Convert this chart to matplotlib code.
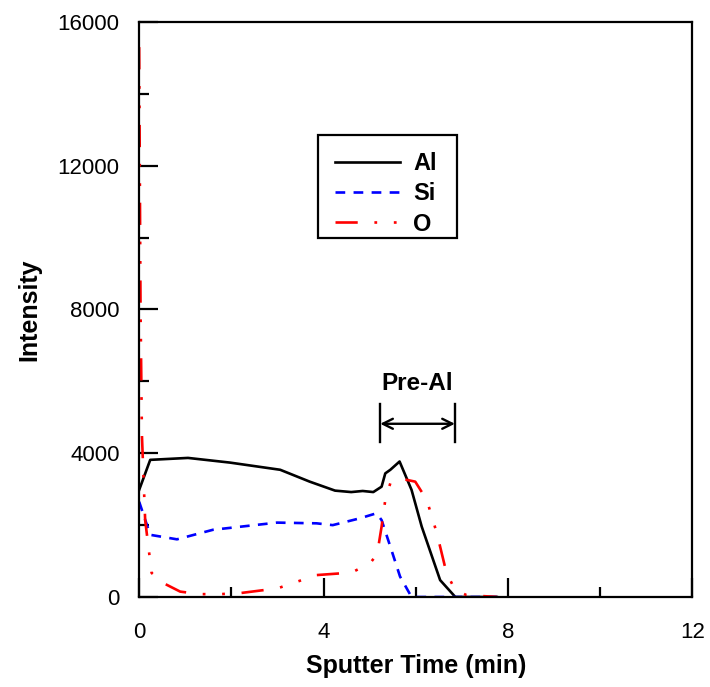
import matplotlib

matplotlib.use("Agg")
import matplotlib.pyplot as plt
from matplotlib.patches import Rectangle
from matplotlib.ticker import MultipleLocator

plt.rcParams["font.family"] = ["Liberation Sans", "DejaVu Sans"]
plt.rcParams["lines.scale_dashes"] = False

# --- данные ---
al_time = [0, 0.24, 1.06, 1.97, 3.06, 3.7, 4.25, 4.6, 4.85, 5.08, 5.26, 5.34, 5.45,
           5.65, 5.91, 6.13, 6.53, 6.86, 7.2, 7.76]
al_intensity = [2980, 3816, 3870, 3740, 3540, 3210, 2960, 2920, 2950, 2920, 3070, 3440, 3540,
                3770, 2980, 1960, 470, 0, 0, 0]

si_time = [0, 0.24, 0.82, 1.6, 2.99, 3.85, 4.2, 4.79, 5.15, 5.26, 5.45, 5.66, 5.91, 7.76]
si_intensity = [2650, 1730, 1605, 1870, 2070, 2050, 2000, 2190, 2330, 2140, 1400, 570, 0, 0]

o_time = [0, 0.03, 0.06, 0.13, 0.27, 0.52, 0.89, 1.32, 1.76, 2.2, 3.0, 3.85, 4.61, 5.01,
          5.12, 5.19, 5.26, 5.34, 5.45, 5.65, 5.99, 6.24, 6.46, 6.67, 6.86, 7.1, 7.76]
o_intensity = [15300, 8000, 4500, 2140, 670, 390, 150, 80, 80, 110, 240, 610, 680, 940,
               1120, 1400, 1960, 2700, 3170, 3300, 3210, 2700, 1770, 660, 190, 55, 0]

x_ticks = [0, 4, 8, 12]
y_ticks = [0, 4000, 8000, 12000, 16000]

pre_al_label = "Pre-Al"
pre_al_span = (5.23, 6.85)
pre_al_bar = (4320, 5380)
pre_al_arrow_y = 4820
pre_al_text_y = 5930

fig = plt.figure(figsize=(7.1, 6.87), dpi=100)
ax = fig.add_axes([0.196, 0.131, 0.779, 0.837])

ax.plot(al_time, al_intensity, color="black", linewidth=1.9, label="Al")
ax.plot(si_time, si_intensity, color="blue", linewidth=1.9,
        linestyle=(0, (7, 6)), label="Si")
ax.plot(o_time, o_intensity, color="red", linewidth=1.9,
        linestyle=(0, (16, 12, 2, 12, 2, 12)), label="O")

# отметка области Pre-Al
for xb in pre_al_span:
    ax.plot([xb, xb], list(pre_al_bar), color="black", linewidth=1.7)
ax.annotate("", xy=(pre_al_span[0], pre_al_arrow_y), xytext=(pre_al_span[1], pre_al_arrow_y),
            arrowprops=dict(arrowstyle="<->", lw=1.7, color="black",
                            shrinkA=0, shrinkB=0, mutation_scale=18))
ax.text(sum(pre_al_span) / 2, pre_al_text_y, pre_al_label, ha="center", va="center",
        fontsize=17.5, fontweight="bold")

ax.set_xlim(0, 12)
ax.set_ylim(0, 16000)
ax.set_xticks(x_ticks)
ax.set_yticks(y_ticks)
ax.xaxis.set_minor_locator(MultipleLocator(2))
ax.yaxis.set_minor_locator(MultipleLocator(2000))
ax.tick_params(which="major", direction="in", length=13.5, width=1.6,
               labelsize=16, pad=14)
ax.tick_params(which="minor", direction="in", length=7, width=1.6)
ax.tick_params(axis="x", which="major", pad=18)
for sp in ax.spines.values():
    sp.set_linewidth(1.6)

ax.set_xlabel("Sputter Time (min)", fontsize=18, fontweight="bold", labelpad=8)
ax.set_ylabel("Intensity", fontsize=18, fontweight="bold", labelpad=12)

# легенда без рамки + отдельная рамка (в оригинале текст сидит ниже центра рамки)
leg = ax.legend(loc="upper left", bbox_to_anchor=(0.3544, 0.7732),
                prop={"weight": "bold", "size": 17}, frameon=False,
                handlelength=2.75, handletextpad=0.55,
                borderpad=0, labelspacing=0.3, borderaxespad=0)
ax.add_patch(Rectangle((0.3237, 0.6243), 0.2514, 0.1791, transform=ax.transAxes,
                       fill=False, edgecolor="black", linewidth=1.6, zorder=6))

fig.savefig("out.png", dpi=100)
plt.close(fig)
